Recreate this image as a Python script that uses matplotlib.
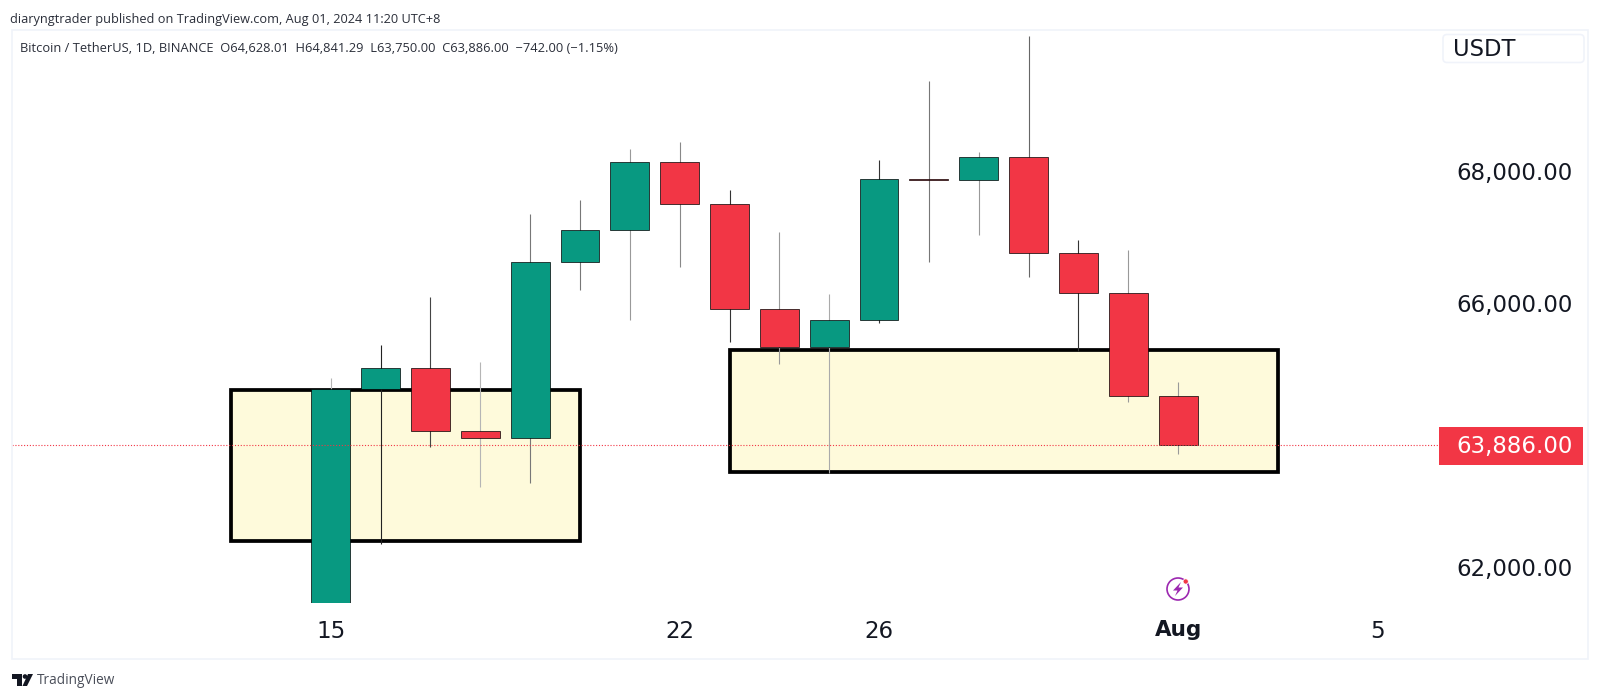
import pandas as pd
import matplotlib
matplotlib.use('Agg')
from matplotlib import pyplot as plt
from matplotlib.patches import Rectangle, FancyBboxPatch, Circle, Polygon
from matplotlib.transforms import ScaledTranslation
import matplotlib.dates as mdates

# daily candles, BTC/USDT
dates = pd.date_range('2024-07-15', '2024-08-01')
opens = [60797, 64724, 65044, 64087, 63987, 66660, 67139, 68165, 67532, 65936, 65372, 65777, 67907, 67896, 68249, 66784, 66188, 64628.01]
highs = [64900, 65388, 66128, 65133, 67386, 67598, 68366, 68474, 67750, 67102, 66175, 68200, 69399, 68318, 70079, 66985, 66829, 64841.29]
lows = [60632, 62373, 63854, 63238, 63300, 66222, 65777, 66573, 65441, 65111, 63456, 65722, 66650, 67066, 66428, 65302, 64530, 63750]
closes = [64724, 65043, 64087, 63987, 66660, 67139, 68165, 67532, 65936, 65372, 65777, 67907, 67896, 68249, 66784, 66188, 64628, 63886]
wick_colors = ['#b5b5b5', '#222222', '#444444', '#b5b5b5', '#777777', '#777777', '#999999', '#888888',
               '#333333', '#999999', '#aaaaaa', '#333333', '#777777', '#999999', '#666666', '#333333', '#999999', '#999999']

# highlighted zones: start, end, low, high
zone_starts = ['2024-07-13', '2024-07-23']
zone_ends = ['2024-07-20', '2024-08-03']
zone_lows = [62426, 63468]
zone_highs = [64713, 65319]

price_ticks = [62000, 64000, 66000, 68000]
date_ticks = ['2024-07-15', '2024-07-22', '2024-07-26', '2024-08-01', '2024-08-05']
date_labels = ['15', '22', '26', 'Aug', '5']
last_price = 63886.00

header = 'diaryngtrader published on TradingView.com, Aug 01, 2024 11:20 UTC+8'
legend = 'Bitcoin / TetherUS, 1D, BINANCE  O64,628.01  H64,841.29  L63,750.00  C63,886.00  \u2212742.00 (\u22121.15%)'

UP = '#089981'
DOWN = '#F23645'
W, H = 1600, 698

fig = plt.figure(figsize=(16, 6.98), dpi=100, facecolor='white')

# chart pane, placed in pixels
ax = fig.add_axes((12/W, 1-603/H, (1588-12)/W, (603-30)/H))
x0 = mdates.date2num(dates[0]) + (12-330.7)/49.85
x1 = mdates.date2num(dates[0]) + (1588-330.7)/49.85
ax.set_xlim(x0, x1)
ax.set_ylim(61486, 70168)
for s in ax.spines.values():
    s.set_visible(False)

for i in range(2):
    l = mdates.date2num(pd.Timestamp(zone_starts[i]))
    r = mdates.date2num(pd.Timestamp(zone_ends[i]))
    ax.add_patch(Rectangle((l, zone_lows[i]), r-l, zone_highs[i]-zone_lows[i],
                           fc='#FEFADB', ec='black', lw=2.7, zorder=1))

xs = mdates.date2num(dates)
for i in range(len(xs)):
    ax.vlines(xs[i], lows[i], highs[i], color=wick_colors[i], lw=0.8, zorder=2)
    col = UP if closes[i] >= opens[i] else DOWN
    ax.bar(xs[i], abs(closes[i]-opens[i]), 0.78, bottom=min(opens[i], closes[i]),
           color=col, ec='black', lw=0.5, zorder=3)

ax.axhline(last_price, xmax=(1439-12)/(1588-12), color=DOWN, lw=0.8, ls=(0, (1, 1.6)), zorder=4)

ax.set_xticks([mdates.date2num(pd.Timestamp(d)) for d in date_ticks])
ax.set_xticklabels(date_labels, fontsize=16.5, color='#131722')
ax.get_xticklabels()[3].set_fontweight('bold')
ax.get_xticklabels()[3].set_fontsize(15.5)
ax.tick_params(axis='x', length=0, pad=12)
ax.yaxis.tick_right()
ax.set_yticks(price_ticks)
ax.set_yticklabels(['{:,.2f}'.format(p) for p in price_ticks], fontsize=16.5, color='#131722', ha='right')
ax.tick_params(axis='y', length=0, pad=-11)
# price labels sit a touch above their level
up = ScaledTranslation(0, 2/100, fig.dpi_scale_trans)
for t in ax.get_yticklabels():
    t.set_transform(t.get_transform() + up)

# page furniture in pixel coords
ov = fig.add_axes((0, 0, 1, 1), facecolor='none', zorder=5)
ov.set_xlim(0, W)
ov.set_ylim(H, 0)
ov.axis('off')

ov.add_patch(Rectangle((11.5, 30), 1576.5, 629, fc='none', ec='#F0F3FA', lw=1.2))
ov.text(10, 19, header, fontsize=9.15, family='Open Sans', color='#2a2e39', va='center')
ov.text(20, 49, legend, fontsize=9.25, family='Open Sans', color='#2a2e39', va='center')

ov.add_patch(FancyBboxPatch((1443, 34.5), 141, 28, boxstyle='round,pad=0,rounding_size=4',
                            fc='white', ec='#F0F3FA', lw=1.2))
ov.text(1453, 49, 'USDT', fontsize=16.3, color='#131722', va='center')

# last price tag
ov.add_patch(Rectangle((1439, 427), 144, 38, fc=DOWN, ec='none'))
ov.text(1572.7, 447, '{:,.2f}'.format(last_price), fontsize=16.5, color='white', ha='right', va='center')

# flash icon
ov.add_patch(Circle((1178, 589), 11, fc='white', ec='#9C27B0', lw=1.2))
ov.add_patch(Polygon([(1181, 582), (1173, 590.5), (1177.5, 590.5), (1175, 596), (1183, 587.5), (1178.5, 587.5)],
                     fc='#9C27B0', ec='none'))
ov.add_patch(Circle((1185.7, 581.5), 2.6, fc=DOWN, ec='white', lw=0.5))

# logo
ov.add_patch(Polygon([(12, 674), (22, 674), (22, 686), (17, 686), (17, 679), (12, 679)], fc='#131722', ec='none'))
ov.add_patch(Circle((25, 676.5), 2.3, fc='#131722', ec='none'))
ov.add_patch(Polygon([(27, 686), (22.5, 686), (28, 674), (33, 674)], fc='#131722', ec='none'))
ov.text(37, 681, 'TradingView', fontsize=9.8, family='Open Sans', color='#4a4e59', va='center')

plt.savefig('out.png', dpi=100)
